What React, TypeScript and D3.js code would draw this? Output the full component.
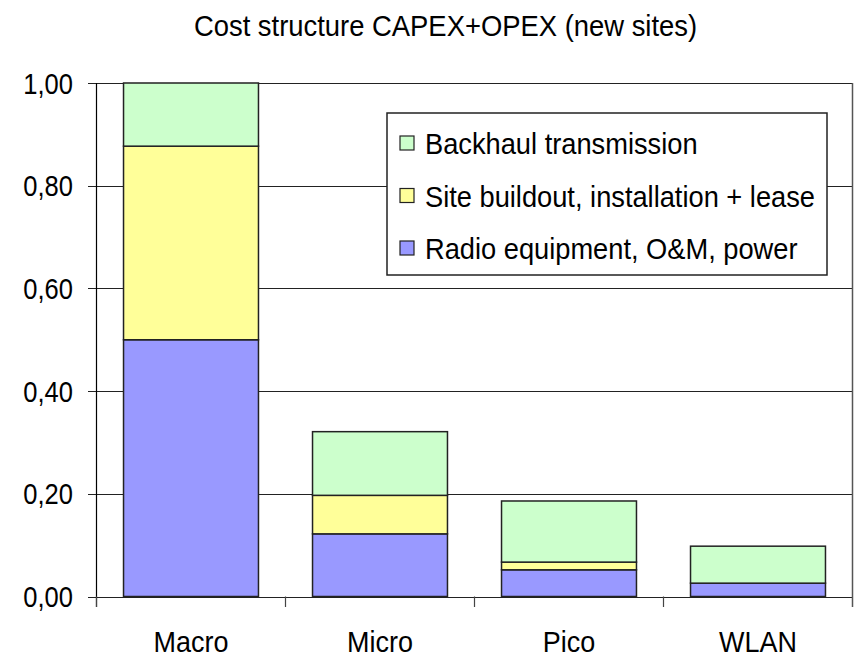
import React from "react";
import * as d3 from "d3";

const categories = ["Macro", "Micro", "Pico", "WLAN"];
const radio = [0.5, 0.122, 0.052, 0.026];
const site = [0.377, 0.075, 0.015, 0];
const backhaul = [0.123, 0.124, 0.119, 0.072];
const seriesNames = [
  "Radio equipment, O&M, power",
  "Site buildout, installation + lease",
  "Backhaul transmission",
];
const yTicks = [0, 0.2, 0.4, 0.6, 0.8, 1.0];
const title = "Cost structure CAPEX+OPEX (new sites)";

const W = 856;
const H = 659;
const left = 96.5;
const right = 852.5;
const top = 83;
const bottom = 596.5;
const colors = ["#9999FF", "#FFFF99", "#CCFFCC"];
const FONT = "'Liberation Sans', Arial, sans-serif";

function T({ x, y, anchor = "start", size = 29, sx = 0.94, children }: any) {
  return (
    <text
      transform={`translate(${x},${y}) scale(${sx},1)`}
      textAnchor={anchor}
      fontFamily={FONT}
      fontSize={size}
      fill="#000"
    >
      {children}
    </text>
  );
}

export default function App() {
  const x = d3.scaleBand<string>().domain(categories).range([left, right]).padding(0);
  const y = d3.scaleLinear().domain([0, 1]).range([bottom, top]);
  const rows = categories.map((c, i) => ({ cat: c, s0: radio[i], s1: site[i], s2: backhaul[i] }));
  const stack = d3.stack<any>().keys(["s0", "s1", "s2"]);
  const stacked = stack(rows);
  const bw = x.bandwidth() * 0.714;
  const fmt = (v: number) => v.toFixed(2).replace(".", ",");

  const legendItems = [
    { name: seriesNames[2], color: colors[2] },
    { name: seriesNames[1], color: colors[1] },
    { name: seriesNames[0], color: colors[0] },
  ];

  return (
    <svg width={W} height={H} style={{ position: "absolute", left: 0, top: 0, background: "#fff" }}>
      <rect x={0} y={0} width={W} height={H} fill="#fff" />
      <T x={445.5} y={36} anchor="middle" sx={0.945}>{title}</T>
      {yTicks.map((t) => (
        <g key={t}>
          <line x1={88} x2={right} y1={Math.round(y(t)) + 0.5} y2={Math.round(y(t)) + 0.5} stroke="#222" strokeWidth={1.2} />
          <T x={73} y={y(t) + 10.5} anchor="end" sx={0.88}>{fmt(t)}</T>
        </g>
      ))}
      <line x1={left} x2={left} y1={top} y2={607} stroke="#000" strokeWidth={1.2} />
      <line x1={right} x2={right} y1={top} y2={607} stroke="#555" strokeWidth={1.5} />
      {categories.map((c) => (
        <line key={c} x1={x(c)!} x2={x(c)!} y1={bottom} y2={607} stroke="#444" strokeWidth={1.2} />
      ))}
      {stacked.map((layer, li) =>
        layer.map((d, i) =>
          d[1] - d[0] > 0 ? (
            <rect
              key={`${li}-${i}`}
              x={x(categories[i])! + (x.bandwidth() - bw) / 2}
              y={y(d[1])}
              width={bw}
              height={y(d[0]) - y(d[1])}
              fill={colors[li]}
              stroke="#222"
              strokeWidth={1.5}
            />
          ) : null
        )
      )}
      {categories.map((c) => (
        <T key={c} x={x(c)! + x.bandwidth() / 2} y={652} anchor="middle" sx={0.93}>{c}</T>
      ))}
      <rect x={387} y={113} width={440} height={162} fill="#fff" stroke="#222" strokeWidth={1.5} />
      {legendItems.map((it, i) => (
        <g key={it.name}>
          <rect x={400} y={136 + i * 52.5} width={14} height={14} fill={it.color} stroke="#222" strokeWidth={1.2} />
          <T x={425} y={154 + i * 52.5}>{it.name}</T>
        </g>
      ))}
    </svg>
  );
}
